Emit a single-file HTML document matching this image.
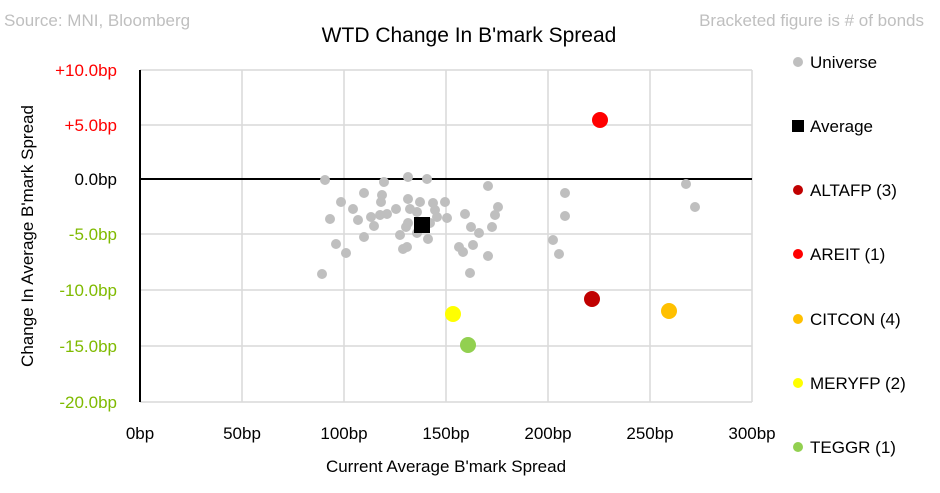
<!DOCTYPE html>
<html><head><style>body{margin:0;background:#fff}svg{display:block}text{font-family:"Liberation Sans",sans-serif}</style></head><body>
<svg width="940" height="493" xmlns="http://www.w3.org/2000/svg">
<text x="4" y="26" font-size="17" fill="#bfbfbf">Source: MNI, Bloomberg</text>
<text x="924" y="26" font-size="17" fill="#bfbfbf" text-anchor="end">Bracketed figure is # of bonds</text>
<text x="469" y="42" font-size="21" fill="#000" text-anchor="middle">WTD Change In B'mark Spread</text>
<g stroke="#d9d9d9" stroke-width="1.5">
<line x1="140" y1="70" x2="752" y2="70"/><line x1="140" y1="125" x2="752" y2="125"/><line x1="140" y1="234" x2="752" y2="234"/><line x1="140" y1="290" x2="752" y2="290"/><line x1="140" y1="346" x2="752" y2="346"/><line x1="140" y1="402" x2="752" y2="402"/>
<line x1="242" y1="70" x2="242" y2="402"/><line x1="344" y1="70" x2="344" y2="402"/><line x1="446" y1="70" x2="446" y2="402"/><line x1="548" y1="70" x2="548" y2="402"/><line x1="650" y1="70" x2="650" y2="402"/><line x1="752" y1="70" x2="752" y2="402"/>
</g>
<line x1="140" y1="70" x2="140" y2="402" stroke="#000" stroke-width="2"/>
<line x1="140" y1="179" x2="752" y2="179" stroke="#000" stroke-width="2"/>
<g fill="#bfbfbf">
<circle cx="325" cy="180" r="5"/><circle cx="384" cy="182" r="5"/><circle cx="408" cy="177" r="5"/><circle cx="427" cy="179" r="5"/><circle cx="488" cy="186" r="5"/><circle cx="364" cy="193" r="5"/><circle cx="382" cy="195" r="5"/><circle cx="381" cy="202" r="5"/><circle cx="341" cy="202" r="5"/><circle cx="408" cy="199" r="5"/><circle cx="420" cy="202" r="5"/><circle cx="433" cy="203" r="5"/><circle cx="445" cy="202" r="5"/><circle cx="353" cy="209" r="5"/><circle cx="396" cy="209" r="5"/><circle cx="410" cy="209" r="5"/><circle cx="417" cy="212" r="5"/><circle cx="435" cy="210" r="5"/><circle cx="498" cy="207" r="5"/><circle cx="330" cy="219" r="5"/><circle cx="358" cy="220" r="5"/><circle cx="371" cy="217" r="5"/><circle cx="380" cy="215" r="5"/><circle cx="387" cy="214" r="5"/><circle cx="465" cy="214" r="5"/><circle cx="495" cy="215" r="5"/><circle cx="437" cy="217" r="5"/><circle cx="447" cy="218" r="5"/><circle cx="374" cy="226" r="5"/><circle cx="408" cy="223" r="5"/><circle cx="406" cy="227" r="5"/><circle cx="430" cy="223" r="5"/><circle cx="471" cy="227" r="5"/><circle cx="492" cy="227" r="5"/><circle cx="479" cy="233" r="5"/><circle cx="400" cy="235" r="5"/><circle cx="417" cy="233" r="5"/><circle cx="364" cy="237" r="5"/><circle cx="428" cy="239" r="5"/><circle cx="336" cy="244" r="5"/><circle cx="346" cy="253" r="5"/><circle cx="407" cy="247" r="5"/><circle cx="403" cy="249" r="5"/><circle cx="459" cy="247" r="5"/><circle cx="463" cy="252" r="5"/><circle cx="473" cy="245" r="5"/><circle cx="488" cy="256" r="5"/><circle cx="322" cy="274" r="5"/><circle cx="470" cy="273" r="5"/>
<circle cx="553" cy="240" r="5"/><circle cx="565" cy="193" r="5"/><circle cx="565" cy="216" r="5"/><circle cx="559" cy="254" r="5"/><circle cx="695" cy="207" r="5"/><circle cx="686" cy="184" r="5"/>
</g>
<rect x="414" y="217" width="16" height="16" fill="#000"/>
<circle cx="600" cy="120" r="8" fill="#ff0000"/>
<circle cx="592" cy="299" r="8" fill="#c00000"/>
<circle cx="669" cy="311" r="8" fill="#ffc000"/>
<circle cx="453" cy="314" r="8" fill="#ffff00"/>
<circle cx="468" cy="345" r="8" fill="#92d050"/>
<g font-size="17" text-anchor="end">
<text x="117" y="76" fill="#ff0000">+10.0bp</text><text x="117" y="131" fill="#ff0000">+5.0bp</text><text x="117" y="185" fill="#000">0.0bp</text>
<text x="117" y="240" fill="#7fba00">-5.0bp</text><text x="117" y="296" fill="#7fba00">-10.0bp</text><text x="117" y="352" fill="#7fba00">-15.0bp</text><text x="117" y="408" fill="#7fba00">-20.0bp</text>
</g>
<g font-size="17" text-anchor="middle" fill="#000">
<text x="140" y="439">0bp</text><text x="242" y="439">50bp</text><text x="344" y="439">100bp</text><text x="446" y="439">150bp</text><text x="548" y="439">200bp</text><text x="650" y="439">250bp</text><text x="752" y="439">300bp</text>
</g>
<text x="446" y="472" font-size="17" text-anchor="middle">Current Average B'mark Spread</text>
<text transform="translate(33,236) rotate(-90)" font-size="17" text-anchor="middle">Change In Average B'mark Spread</text>
<g font-size="17" fill="#000">
<circle cx="798" cy="62" r="5" fill="#bfbfbf"/><text x="810" y="68">Universe</text>
<rect x="792" y="120" width="12" height="12" fill="#000"/><text x="810" y="132">Average</text>
<circle cx="798" cy="190" r="5" fill="#c00000"/><text x="810" y="196">ALTAFP  (3)</text>
<circle cx="798" cy="254" r="5" fill="#ff0000"/><text x="810" y="260">AREIT  (1)</text>
<circle cx="798" cy="319" r="5" fill="#ffc000"/><text x="810" y="325">CITCON  (4)</text>
<circle cx="798" cy="383" r="5" fill="#ffff00"/><text x="810" y="389">MERYFP  (2)</text>
<circle cx="798" cy="447" r="5" fill="#92d050"/><text x="810" y="453">TEGGR  (1)</text>
</g>
</svg>
</body></html>
